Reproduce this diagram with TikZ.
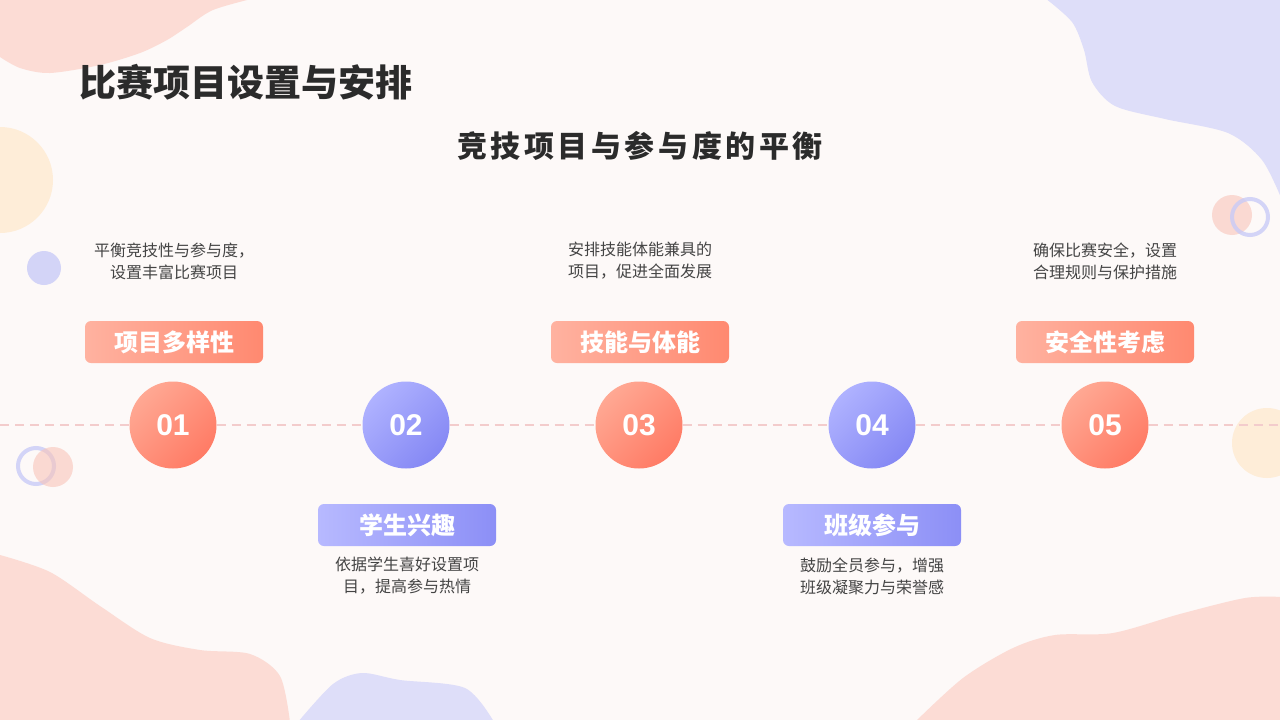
\documentclass[tikz,border=0pt]{standalone}
\usepackage{fontspec}
\setmainfont{Noto Sans CJK SC}
\newfontfamily\numfont{Liberation Sans}
\newfontfamily\subfont{Noto Sans CJK SC}[LetterSpace=12]
\definecolor{bgc}{HTML}{FDF9F8}
\definecolor{pinkblob}{HTML}{FCDCD5}
\definecolor{lavblob}{HTML}{DEDEF9}
\definecolor{yel}{HTML}{FEEDD8}
\definecolor{ringc}{HTML}{C9CBF7}
\definecolor{smallpink}{HTML}{F8C4B9}
\definecolor{titlec}{HTML}{2B2B2B}
\definecolor{descc}{HTML}{444444}
\definecolor{dashc}{HTML}{F3CCCC}
\definecolor{coA}{HTML}{FFA893}
\definecolor{coB}{HTML}{FF7B65}
\definecolor{laA}{HTML}{AFB2FF}
\definecolor{laB}{HTML}{8588F4}
\definecolor{tcA}{HTML}{FFB2A0}
\definecolor{tcB}{HTML}{FF8970}
\definecolor{tlA}{HTML}{B7B9FF}
\definecolor{tlB}{HTML}{8C8FF6}
\tikzset{
  dot/.style={circle, minimum size=87pt, inner sep=0pt, text=white,
    font=\numfont\bfseries\fontsize{30}{30}\selectfont},
  coraldot/.style={dot, top color=coA, bottom color=coB, shading angle=45},
  lavdot/.style={dot, top color=laA, bottom color=laB, shading angle=45},
  tagbox/.style={rounded corners=6pt, minimum width=178pt, minimum height=42pt,
    inner sep=0pt, text=white, font=\bfseries\fontsize{24}{24}\selectfont},
  coraltag/.style={tagbox, left color=tcA, right color=tcB},
  lavtag/.style={tagbox, left color=tlA, right color=tlB},
  desc/.style={align=center, text=descc, inner sep=0pt,
    font=\fontsize{16}{22}\selectfont},
  dashline/.style={draw=dashc, line width=2pt, dash pattern=on 9pt off 6pt}
}
\begin{document}
\begin{tikzpicture}[x=1pt,y=-1pt]
\useasboundingbox (0,0) rectangle (1280,720);
\fill[bgc] (0,0) rectangle (1280,720);
% decorative blobs
\fill[pinkblob] (-2,-2) -- (-2,57) -- plot[smooth] coordinates {(0,57) (20,68) (50,73) (100,65) (140,53) (167,40) (187,27) (213,10) (255,-2)} -- cycle;
\fill[lavblob] (1282,-2) -- (1045,-2) -- plot[smooth] coordinates {(1045,-2) (1072,22) (1084,50) (1092,82) (1115,106) (1165,119) (1228,133) (1262,160) (1282,200)} -- cycle;
\fill[pinkblob] (-2,722) -- (-2,555) -- plot[smooth] coordinates {(0,555) (50,572) (100,606) (150,638) (200,650) (250,654) (280,676) (290,722)} -- cycle;
\fill[lavblob] plot[smooth] coordinates {(298,722) (333,684) (362,673) (400,680) (465,688) (494,722)} -- cycle;
\fill[pinkblob] (1282,722) -- (915,722) -- plot[smooth] coordinates {(915,722) (963,678) (1013,648) (1055,635) (1113,633) (1180,614) (1245,598) (1282,597)} -- cycle;
\fill[yel] (0,180) circle[radius=53];
\fill[yel] (1267,443) circle[radius=35];
\fill[ringc, opacity=0.8] (44,268) circle[radius=17];
\draw[ringc, line width=4pt, opacity=0.8] (36,466) circle[radius=18];
\fill[smallpink, opacity=0.6] (53,467) circle[radius=20];
\fill[smallpink, opacity=0.6] (1232,215) circle[radius=20];
\draw[ringc, line width=4pt, opacity=0.8] (1250,217) circle[radius=18];
% titles
\node[anchor=west, inner sep=0pt, text=titlec, font=\bfseries\fontsize{37}{40}\selectfont] (title) at (79,82) {比赛项目设置与安排};
\node[inner sep=0pt, text=titlec, font=\subfont\bfseries\fontsize{30}{32}\selectfont] (sub) at (640,146) {竞技项目与参与度的平衡};
% timeline
\coordinate (L) at (0,425);
\coordinate (R) at (1280,425);
\node[coraldot] (n1) at (173,425) {01};
\node[lavdot] (n2) at (406,425) {02};
\node[coraldot] (n3) at (639,425) {03};
\node[lavdot] (n4) at (872,425) {04};
\node[coraldot] (n5) at (1105,425) {05};
\draw[dashline] (L) -- (n1);
\draw[dashline] (n1) -- (n2);
\draw[dashline] (n2) -- (n3);
\draw[dashline] (n3) -- (n4);
\draw[dashline] (n4) -- (n5);
\draw[dashline] (n5) -- (R);
% tags
\node[coraltag] (t1) at (174,342) {项目多样性};
\node[lavtag] (t2) at (407,525) {学生兴趣};
\node[coraltag] (t3) at (640,342) {技能与体能};
\node[lavtag] (t4) at (872,525) {班级参与};
\node[coraltag] (t5) at (1105,342) {安全性考虑};
% descriptions
\node[desc] (d1) at (174,261) {平衡竞技性与参与度，\\设置丰富比赛项目};
\node[desc] (d2) at (407,576) {依据学生喜好设置项\\目，提高参与热情};
\node[desc] (d3) at (640,261) {安排技能体能兼具的\\项目，促进全面发展};
\node[desc] (d4) at (872,576) {鼓励全员参与，增强\\班级凝聚力与荣誉感};
\node[desc] (d5) at (1105,261) {确保比赛安全，设置\\合理规则与保护措施};
\end{tikzpicture}
\end{document}
